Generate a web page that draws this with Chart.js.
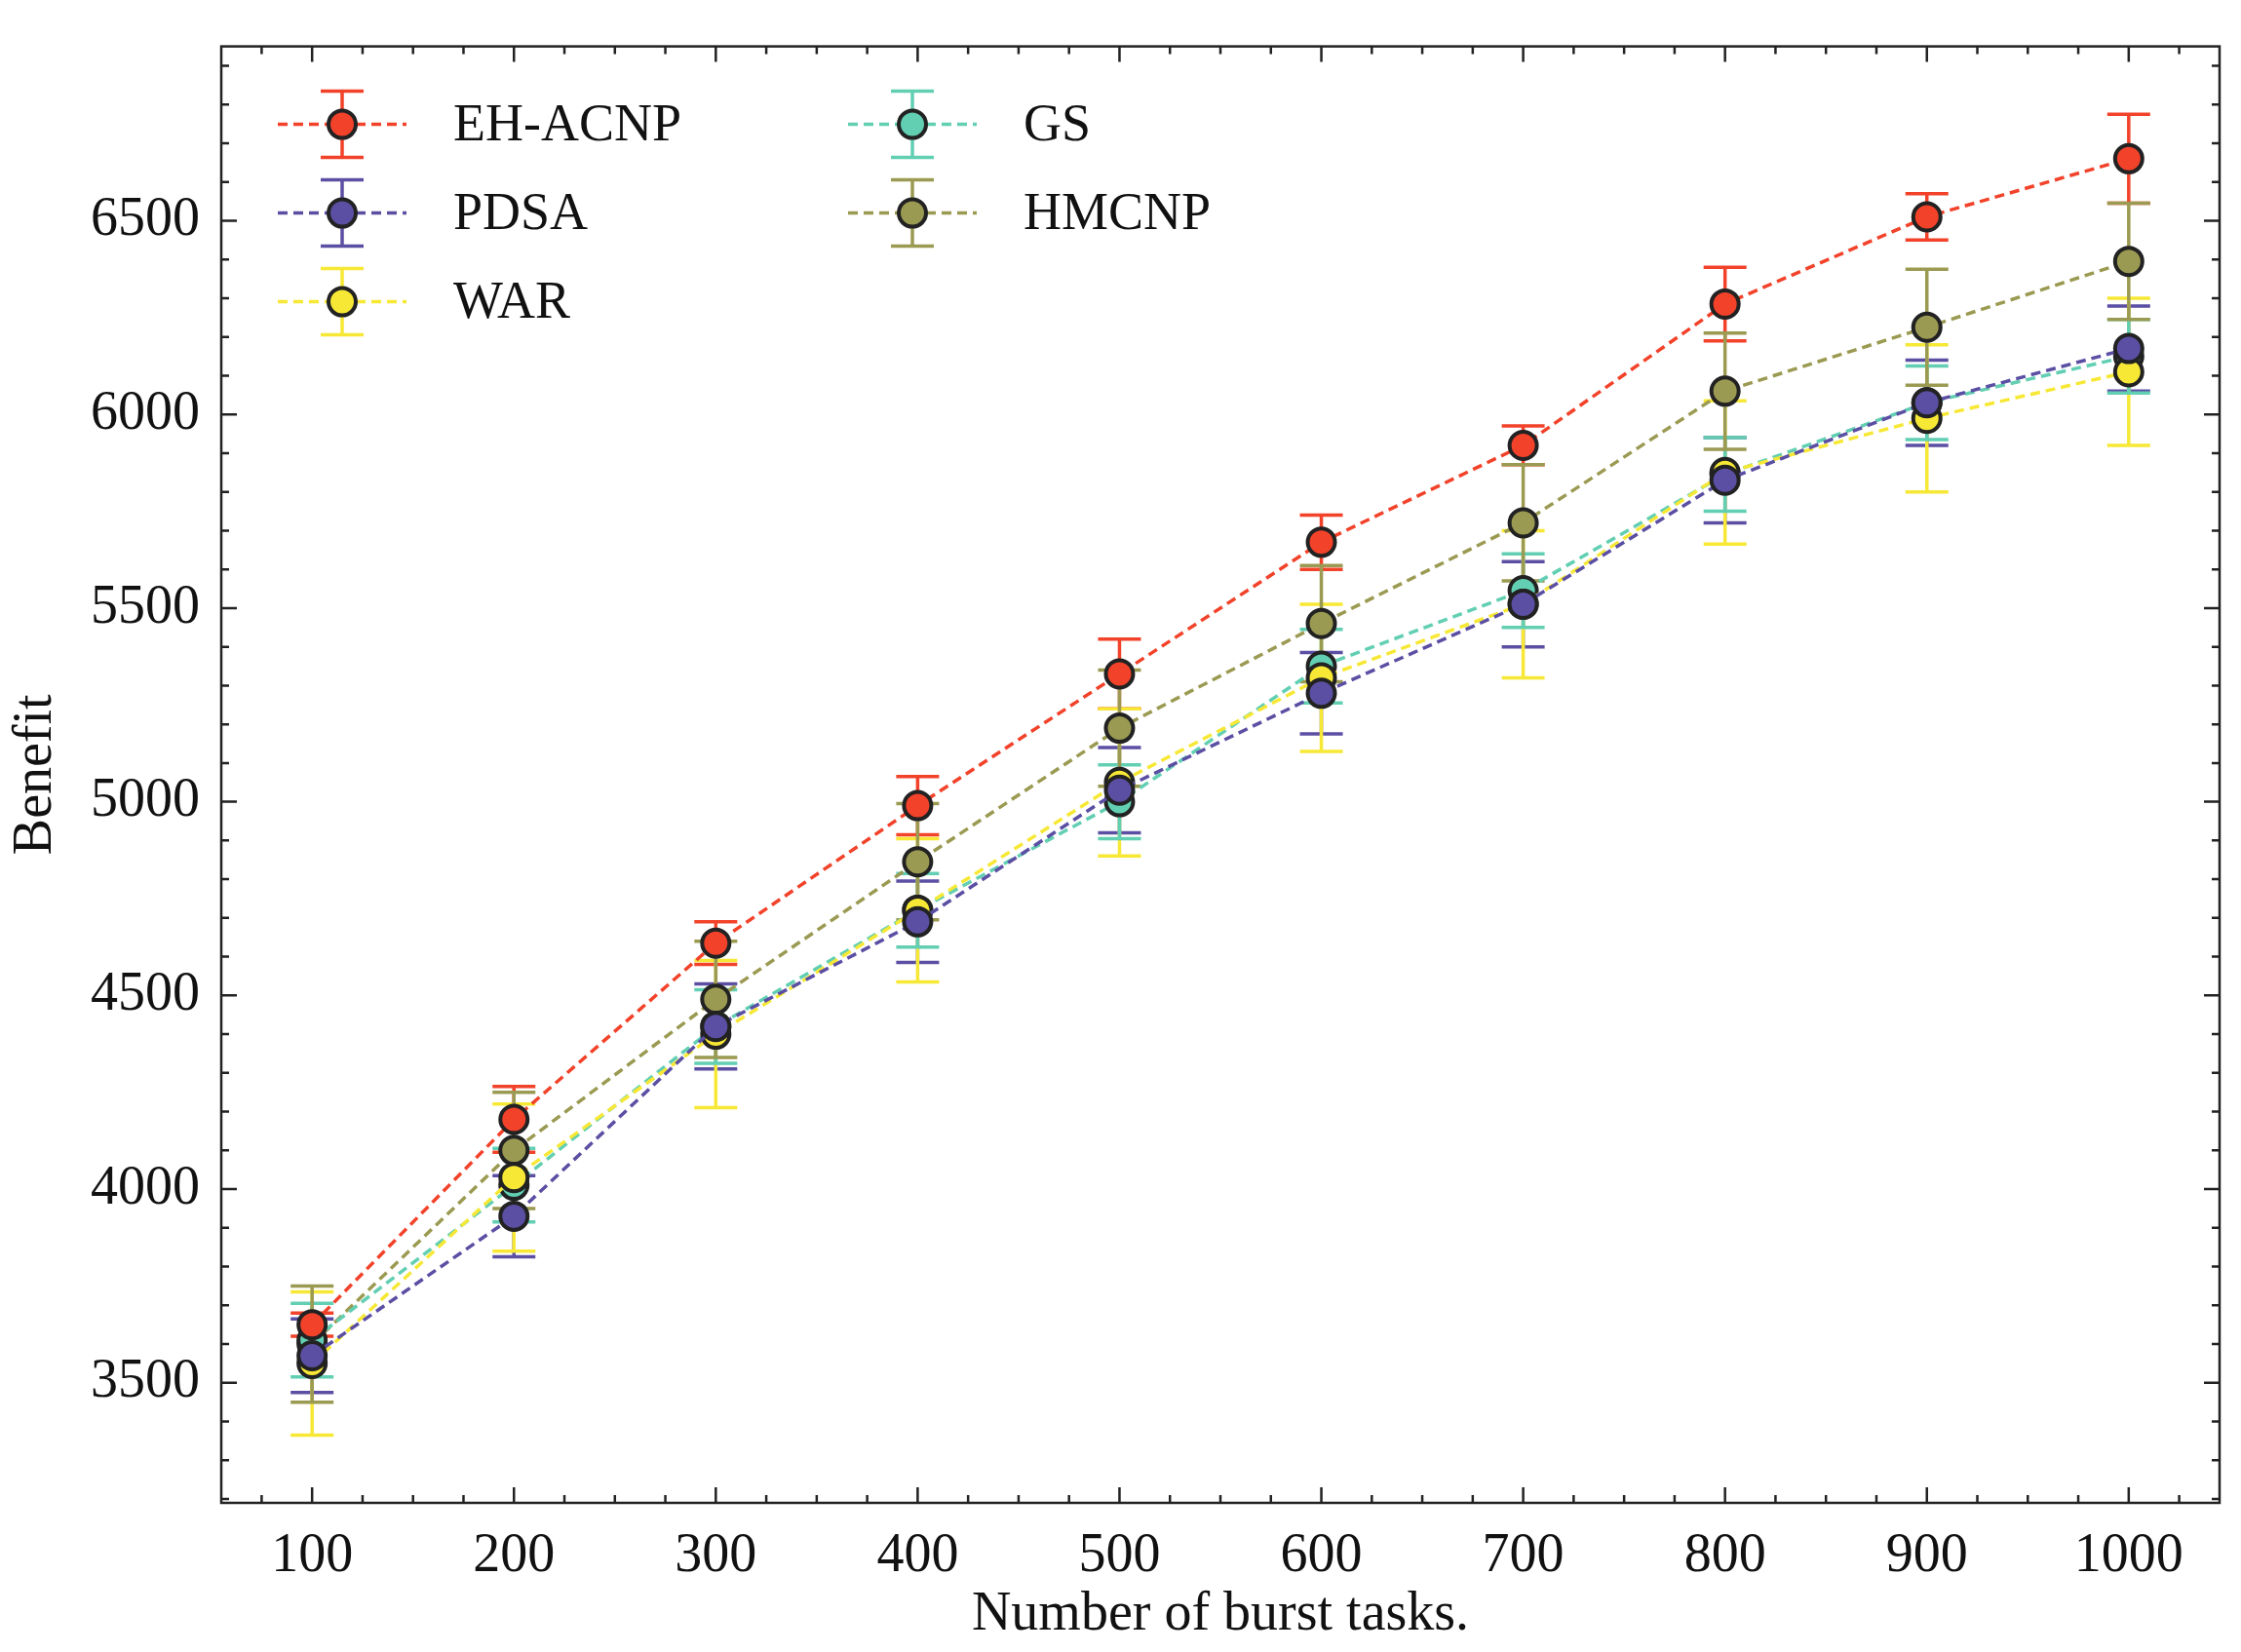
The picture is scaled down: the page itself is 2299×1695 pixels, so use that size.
<!DOCTYPE html>
<html><head><meta charset="utf-8">
<script src="https://cdn.jsdelivr.net/npm/chart.js@4"></script>
<style>body{margin:0;background:#fff}#wrap{width:2299px;height:1695px}</style>
</head><body><div id="wrap"><canvas id="c"></canvas></div>
<script>
// datos
const tareas = [100, 200, 300, 400, 500, 600, 700, 800, 900, 1000];
const ehAcnp = [3650, 4180, 4635, 4990, 5330, 5670, 5920, 6285, 6510, 6660];
const ehAcnpErr = [30, 85, 55, 75, 90, 70, 50, 95, 60, 115];
const pdsa = [3570, 3930, 4420, 4690, 5030, 5280, 5510, 5830, 6030, 6170];
const pdsaErr = [95, 105, 110, 105, 110, 105, 110, 110, 110, 110];
const war = [3550, 4030, 4400, 4720, 5050, 5320, 5510, 5850, 5990, 6110];
const warErr = [185, 190, 190, 185, 190, 190, 190, 185, 190, 190];
const gs = [3610, 4010, 4420, 4720, 5000, 5350, 5545, 5845, 6030, 6150];
const gsErr = [95, 95, 95, 95, 95, 95, 95, 95, 95, 95];
const hmcnp = [3600, 4100, 4490, 4845, 5190, 5460, 5720, 6060, 6225, 6395];
const hmcnpErr = [150, 150, 150, 150, 150, 150, 150, 150, 150, 150];
const yTicks = [3500, 4000, 4500, 5000, 5500, 6000, 6500];

const series = [
  {label: "EH-ACNP", data: ehAcnp, err: ehAcnpErr, color: "#f2422a"},
  {label: "PDSA", data: pdsa, err: pdsaErr, color: "#5b4fa3"},
  {label: "WAR", data: war, err: warErr, color: "#f7e836"},
  {label: "GS", data: gs, err: gsErr, color: "#62cfb3"},
  {label: "HMCNP", data: hmcnp, err: hmcnpErr, color: "#9b9a52"}
];

const fuente = "Liberation Serif";

// barras de error, marco, ticks internos y leyenda
const extras = {
  id: "extras",
  beforeDatasetsDraw(chart) {
    const ctx = chart.ctx, x = chart.scales.x, y = chart.scales.y;
    ctx.save();
    ctx.lineWidth = 3.5;
    series.forEach((s) => {
      ctx.strokeStyle = s.color;
      s.data.forEach((v, i) => {
        const px = x.getPixelForValue(tareas[i]);
        const t = y.getPixelForValue(v + s.err[i]), b = y.getPixelForValue(v - s.err[i]);
        ctx.beginPath();
        ctx.moveTo(px, t); ctx.lineTo(px, b);
        ctx.moveTo(px - 22, t); ctx.lineTo(px + 22, t);
        ctx.moveTo(px - 22, b); ctx.lineTo(px + 22, b);
        ctx.stroke();
      });
    });
    ctx.restore();
  },
  afterDraw(chart) {
    const ctx = chart.ctx, x = chart.scales.x, y = chart.scales.y, a = chart.chartArea;
    ctx.save();
    ctx.strokeStyle = "#222"; ctx.lineWidth = 2.5;
    ctx.strokeRect(a.left, a.top, a.right - a.left, a.bottom - a.top);
    ctx.beginPath();
    tareas.forEach((t) => {
      const px = x.getPixelForValue(t);
      ctx.moveTo(px, a.bottom); ctx.lineTo(px, a.bottom - 16);
      ctx.moveTo(px, a.top); ctx.lineTo(px, a.top + 16);
    });
    for (let t = 75; t <= 1025; t += 25) {
      const px = x.getPixelForValue(t);
      ctx.moveTo(px, a.bottom); ctx.lineTo(px, a.bottom - 8);
      ctx.moveTo(px, a.top); ctx.lineTo(px, a.top + 8);
    }
    for (let v = 3200; v <= 6900; v += 100) {
      const py = y.getPixelForValue(v), L = v % 500 === 0 ? 16 : 8;
      ctx.moveTo(a.left, py); ctx.lineTo(a.left + L, py);
      ctx.moveTo(a.right, py); ctx.lineTo(a.right - L, py);
    }
    ctx.stroke();
    // leyenda en dos columnas
    ctx.font = "54px '" + fuente + "'";
    ctx.textBaseline = "middle";
    series.forEach((s, i) => {
      const col = i < 3 ? 0 : 1, row = i < 3 ? i : i - 3;
      const lx = a.left + (col ? 585 : 0) + 58, ly = a.top + 80 + row * 91;
      ctx.strokeStyle = s.color; ctx.lineWidth = 3.5;
      ctx.setLineDash([10, 6]);
      ctx.beginPath(); ctx.moveTo(lx, ly); ctx.lineTo(lx + 132, ly); ctx.stroke();
      ctx.setLineDash([]);
      ctx.beginPath();
      ctx.moveTo(lx + 66, ly - 34); ctx.lineTo(lx + 66, ly + 34);
      ctx.moveTo(lx + 44, ly - 34); ctx.lineTo(lx + 88, ly - 34);
      ctx.moveTo(lx + 44, ly + 34); ctx.lineTo(lx + 88, ly + 34);
      ctx.stroke();
      ctx.fillStyle = s.color; ctx.strokeStyle = "#222"; ctx.lineWidth = 4;
      ctx.beginPath(); ctx.arc(lx + 66, ly, 14, 0, Math.PI * 2); ctx.fill(); ctx.stroke();
      ctx.fillStyle = "#111";
      ctx.fillText(s.label, lx + 180, ly + 2);
    });
    ctx.restore();
  }
};

new Chart(document.getElementById("c"), {
  type: "line",
  data: {
    datasets: series.map((s) => ({
      label: s.label,
      data: s.data.map((v, i) => ({x: tareas[i], y: v})),
      borderColor: s.color,
      backgroundColor: s.color,
      borderWidth: 3.5,
      borderDash: [10, 6],
      pointRadius: 14,
      pointBorderWidth: 4,
      pointBorderColor: "#222",
      pointBackgroundColor: s.color
    }))
  },
  options: {
    responsive: true,
    maintainAspectRatio: false,
    animation: false,
    layout: {padding: {top: -8, right: 22, left: 0, bottom: 0}},
    plugins: {legend: {display: false}, tooltip: {enabled: false}},
    scales: {
      x: {
        type: "linear", min: 55, max: 1045,
        afterBuildTicks: (sc) => { sc.ticks = tareas.map((v) => ({value: v})); },
        grid: {display: false}, border: {display: false},
        ticks: {color: "#111", padding: 14, font: {family: fuente, size: 56}, callback: (v) => String(v)},
        title: {display: true, text: "Number of burst tasks.", color: "#111", padding: {top: 0}, font: {family: fuente, size: 56}},
        afterFit: (sc) => { sc.height = 153; }
      },
      y: {
        min: 3190, max: 6950,
        afterBuildTicks: (sc) => { sc.ticks = yTicks.map((v) => ({value: v})); },
        grid: {display: false}, border: {display: false},
        ticks: {color: "#111", padding: 14, font: {family: fuente, size: 56}, callback: (v) => String(v)},
        title: {display: true, text: "Benefit", color: "#111", padding: {bottom: 6}, font: {family: fuente, size: 56}},
        afterFit: (sc) => { sc.width = 227; }
      }
    }
  },
  plugins: [extras]
});
</script>
</body></html>
